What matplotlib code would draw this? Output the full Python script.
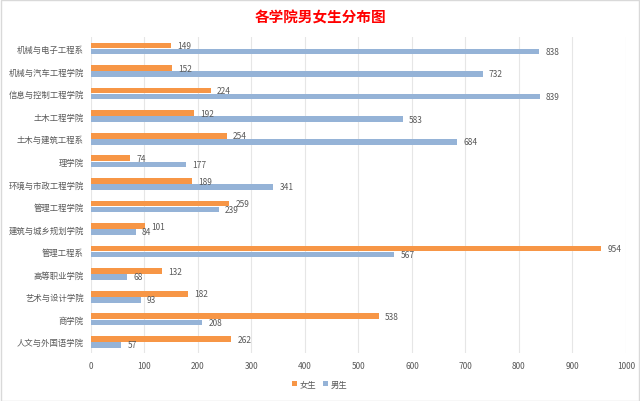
import numpy as np
import matplotlib.pyplot as plt
from matplotlib.patches import Rectangle

plt.rcParams['font.family'] = ['Noto Sans CJK SC', 'DejaVu Sans']

colleges = ['机械与电子工程系', '机械与汽车工程学院', '信息与控制工程学院', '土木工程学院',
            '土木与建筑工程系', '理学院', '环境与市政工程学院', '管理工程学院',
            '建筑与城乡规划学院', '管理工程系', '高等职业学院', '艺术与设计学院',
            '商学院', '人文与外国语学院']
female = [149, 152, 224, 192, 254, 74, 189, 259, 101, 954, 132, 182, 538, 262]
male = [838, 732, 839, 583, 684, 177, 341, 239, 84, 567, 68, 93, 208, 57]

c_female = '#F79646'
c_male = '#95B3D7'
txt_col = '#595959'

fig = plt.figure(figsize=(6.4, 4.02), dpi=100)
ax = fig.add_axes([0.142, 0.119, 0.836, 0.786])

y = np.arange(len(colleges))
h = 0.25
ax.barh(y - h/2 - 0.01, female, height=h, color=c_female, label='女生', zorder=3)
ax.barh(y + h/2 + 0.01, male, height=h, color=c_male, label='男生', zorder=3)

for i in range(len(colleges)):
    ax.annotate(str(female[i]), (female[i], y[i] - h/2), xytext=(4.5, 0), textcoords='offset points',
                va='center', ha='left', fontsize=6, color=txt_col)
    ax.annotate(str(male[i]), (male[i], y[i] + h/2), xytext=(4.5, 0), textcoords='offset points',
                va='center', ha='left', fontsize=6, color=txt_col)

ax.set_yticks(y)
ax.set_yticklabels(colleges, fontsize=6, color=txt_col)
ax.set_ylim(len(colleges) - 0.5, -0.5)
ax.set_xlim(0, 1000)
ax.set_xticks(range(0, 1001, 100))
ax.tick_params(axis='x', labelsize=6, labelcolor=txt_col, length=0, pad=6)
ax.tick_params(axis='y', length=0, pad=5)
ax.grid(axis='x', color='#E6E6E6', linewidth=0.8, zorder=0)
for s in ax.spines.values():
    s.set_visible(False)

fig.text(0.5, 0.957, '各学院男女生分布图', ha='center', va='center', fontsize=10.5,
         fontweight='bold', color='#FF0000')

fig.legend(loc='center', bbox_to_anchor=(0.5, 0.042), ncol=2, frameon=False,
           fontsize=6, handlelength=0.6, handleheight=0.6, handletextpad=0.3,
           columnspacing=0.8, labelcolor=txt_col)

fig.patches.append(Rectangle((0.001, 0.001), 0.997, 0.997, transform=fig.transFigure,
                             fill=False, edgecolor='#D9D9D9', linewidth=1))

fig.savefig('out.png', dpi=100)
